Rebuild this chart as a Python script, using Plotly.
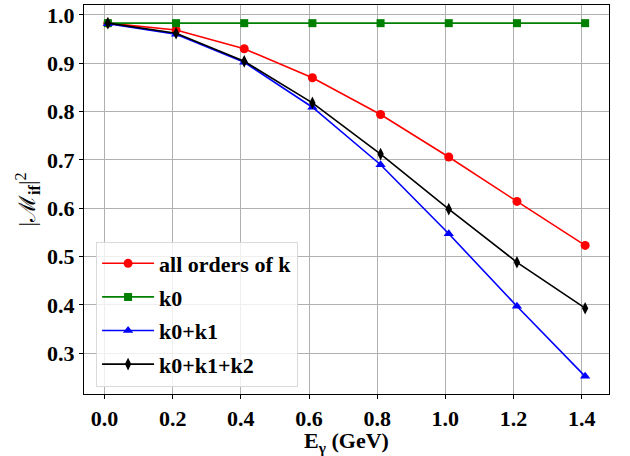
import plotly.graph_objects as go

E_gamma = [0.01, 0.21, 0.41, 0.61, 0.81, 1.01, 1.21, 1.41]
all_orders = [0.983, 0.969, 0.930, 0.870, 0.794, 0.706, 0.614, 0.523]
k0 = [0.983, 0.983, 0.983, 0.983, 0.983, 0.983, 0.983, 0.983]
k0_k1 = [0.982, 0.960, 0.902, 0.809, 0.690, 0.547, 0.397, 0.252]
k0_k1_k2 = [0.983, 0.962, 0.904, 0.818, 0.712, 0.598, 0.488, 0.393]

x_ticks = [0.0, 0.2, 0.4, 0.6, 0.8, 1.0, 1.2, 1.4]
y_ticks = [0.3, 0.4, 0.5, 0.6, 0.7, 0.8, 0.9, 1.0]

series = [
    ("all orders of k", all_orders, "#ff0000", "circle", 9),
    ("k0", k0, "#008000", "square", 8),
    ("k0+k1", k0_k1, "#0000ff", "triangle-up", 9),
    ("k0+k1+k2", k0_k1_k2, "#000000", "diamond-tall", 9),
]

FONT = "Liberation Serif"

fig = go.Figure()
for name, vals, color, sym, sz in series:
    fig.add_trace(go.Scatter(
        x=E_gamma, y=vals, name=name, mode="lines+markers",
        legendgroup=name,
        line=dict(color=color, width=1.6),
        marker=dict(symbol=sym, size=sz, color=color),
    ))

fig.update_layout(
    width=630, height=456,
    margin=dict(l=84, r=21, t=3, b=62),
    paper_bgcolor="white", plot_bgcolor="white",
    font=dict(family=FONT, size=22, color="black"),
    legend=dict(
        x=0.023, y=0.392, xanchor="left", yanchor="top",
        bgcolor="rgba(255,255,255,0.8)", bordercolor="#d9d9d9", borderwidth=1,
        font=dict(family=FONT, size=22, color="black", weight="bold"),
        itemwidth=52, tracegroupgap=2,
    ),
    showlegend=True,
)
fig.update_xaxes(
    range=[-0.06, 1.48], tickvals=x_ticks,
    ticktext=[f"{v:.1f}" for v in x_ticks],
    showgrid=True, gridcolor="#b0b0b0", gridwidth=1,
    showline=True, linecolor="black", linewidth=1.2, mirror=True,
    ticks="outside", ticklen=4, tickcolor="black",
    tickfont=dict(family=FONT, size=22, weight="bold"),
    title=dict(text="<b>E<sub>γ</sub> (GeV)</b>", font=dict(family=FONT, size=22), standoff=2),
    zeroline=False,
)
fig.update_yaxes(
    range=[0.2154, 1.0206], tickvals=y_ticks,
    ticktext=[f"{v:.1f}" for v in y_ticks],
    showgrid=True, gridcolor="#b0b0b0", gridwidth=1,
    showline=True, linecolor="black", linewidth=1.2, mirror=True,
    ticks="outside", ticklen=4, tickcolor="black",
    tickfont=dict(family=FONT, size=22, weight="bold"),
    title=dict(text="|ℳ<sub><b>if</b></sub>|<sup>2</sup>", font=dict(family=FONT, size=23), standoff=4),
    zeroline=False,
)

fig.write_html("out.html", config={"displayModeBar": False},
               post_script="document.body.style.margin='0px';")
